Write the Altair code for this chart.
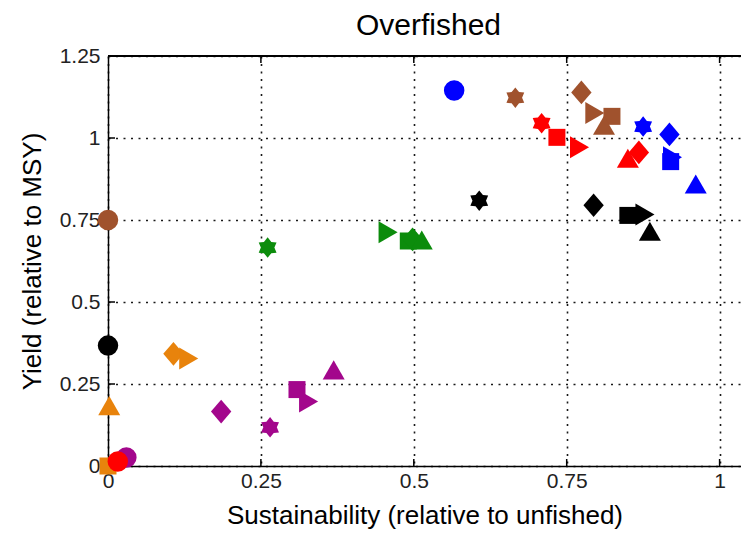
import altair as alt
import pandas as pd

# ---- data ----
series_names = ["Blue", "Brown", "Black", "Green", "Orange", "Purple", "Red"]
series_colors = ["#0000ff", "#a0522d", "#000000", "#0c8c0c", "#e8830c", "#a3078c", "#ff0000"]

shape_names = ["circle", "diamond", "square", "triangle-up", "triangle-right", "hexagram"]

blue_shape = ["circle", "hexagram", "diamond", "triangle-right", "square", "triangle-up"]
blue_x = [0.566, 0.875, 0.918, 0.923, 0.920, 0.961]
blue_y = [1.145, 1.035, 1.011, 0.941, 0.928, 0.860]

brown_shape = ["circle", "hexagram", "diamond", "triangle-right", "square", "triangle-up"]
brown_x = [0.000, 0.666, 0.774, 0.796, 0.824, 0.811]
brown_y = [0.750, 1.123, 1.139, 1.076, 1.066, 1.039]

black_shape = ["circle", "hexagram", "diamond", "square", "triangle-right", "triangle-up"]
black_x = [0.000, 0.607, 0.794, 0.850, 0.878, 0.886]
black_y = [0.367, 0.809, 0.795, 0.764, 0.767, 0.716]

green_shape = ["hexagram", "triangle-right", "square", "diamond", "triangle-up"]
green_x = [0.261, 0.458, 0.491, 0.498, 0.513]
green_y = [0.666, 0.713, 0.686, 0.691, 0.689]

orange_shape = ["square", "triangle-up", "diamond", "triangle-right"]
orange_x = [0.000, 0.002, 0.107, 0.132]
orange_y = [0.000, 0.184, 0.342, 0.328]

purple_shape = ["circle", "diamond", "hexagram", "square", "triangle-right", "triangle-up"]
purple_x = [0.030, 0.185, 0.265, 0.309, 0.328, 0.369]
purple_y = [0.026, 0.166, 0.118, 0.233, 0.197, 0.293]

red_shape = ["circle", "hexagram", "square", "triangle-right", "triangle-up", "diamond"]
red_x = [0.016, 0.709, 0.734, 0.771, 0.850, 0.868]
red_y = [0.014, 1.045, 1.002, 0.972, 0.938, 0.956]

x_ticks = [0, 0.25, 0.5, 0.75, 1]
y_ticks = [0, 0.25, 0.5, 0.75, 1, 1.25]

# ---- build table ----
groups = [
    ("Blue", blue_shape, blue_x, blue_y),
    ("Brown", brown_shape, brown_x, brown_y),
    ("Black", black_shape, black_x, black_y),
    ("Green", green_shape, green_x, green_y),
    ("Orange", orange_shape, orange_x, orange_y),
    ("Purple", purple_shape, purple_x, purple_y),
    ("Red", red_shape, red_x, red_y),
]
rows = []
order = 0
for name, shp, xs, ys in groups:
    for s, xv, yv in zip(shp, xs, ys):
        rows.append({"series": name, "shape": s, "sust": xv, "yield": yv, "order": order})
        order += 1
df = pd.DataFrame(rows)

W, H = 633, 410
FONT = "Liberation Sans"

hexagram_path = ("M0,-1L0.36,-0.55L0.87,-0.5L0.66,0L0.87,0.5L0.36,0.55L0,1"
                 "L-0.36,0.55L-0.87,0.5L-0.66,0L-0.87,-0.5L-0.36,-0.55Z")
diamond_path = "M0,-1L0.86,0L0,1L-0.86,0Z"
shape_range = ["circle", diamond_path, "square", "triangle-up", "triangle-right", hexagram_path]
size_range = [420, 560, 289, 484, 484, 420]

xscale = alt.Scale(domain=[0, 1.035], nice=False, zero=False)
yscale = alt.Scale(domain=[0, 1.25], nice=False, zero=False)

xaxis = alt.Axis(values=x_ticks, labelExpr="datum.value", title="Sustainability (relative to unfished)",
                 grid=True, ticks=False, labelPadding=4, titlePadding=11, labelFlush=False)
yaxis = alt.Axis(values=y_ticks, labelExpr="datum.value", title="Yield (relative to MSY)",
                 grid=True, ticks=False, labelPadding=8, titlePadding=14, labelFlush=False)

points = alt.Chart(df).mark_point(filled=True, opacity=1, strokeWidth=0).encode(
    x=alt.X("sust:Q", scale=xscale, axis=xaxis),
    y=alt.Y("yield:Q", scale=yscale, axis=yaxis),
    color=alt.Color("series:N", scale=alt.Scale(domain=series_names, range=series_colors), legend=None),
    shape=alt.Shape("shape:N", scale=alt.Scale(domain=shape_names, range=shape_range), legend=None),
    size=alt.Size("shape:N", scale=alt.Scale(type="ordinal", domain=shape_names, range=size_range), legend=None),
    order=alt.Order("order:Q"),
)

xt = pd.DataFrame({"v": x_ticks[1:]})
yt = pd.DataFrame({"v": y_ticks[1:-1]})

bottom_ticks = alt.Chart(xt).mark_rule(color="black", strokeWidth=1.5).encode(
    x=alt.X("v:Q", scale=xscale), y=alt.value(H), y2=alt.value(H - 7))
top_ticks = alt.Chart(xt).mark_rule(color="black", strokeWidth=1.5).encode(
    x=alt.X("v:Q", scale=xscale), y=alt.value(0), y2=alt.value(7))
left_ticks = alt.Chart(yt).mark_rule(color="black", strokeWidth=1.5).encode(
    y=alt.Y("v:Q", scale=yscale), x=alt.value(0), x2=alt.value(7))
top_line = alt.Chart(xt).mark_rule(color="black", strokeWidth=1.5).encode(
    x=alt.value(0), x2=alt.value(W), y=alt.value(0))

chart = alt.layer(top_line, bottom_ticks, top_ticks, left_ticks, points).properties(
    width=W, height=H,
    title=alt.TitleParams("Overfished", fontSize=30, font=FONT, fontWeight="normal",
                          color="black", offset=4, dx=4),
    autosize=alt.AutoSizeParams(type="none"),
    padding={"left": 100, "top": 48, "right": 0, "bottom": 72},
).configure_view(stroke=None).configure_axis(
    labelFont=FONT, labelFontSize=21, labelColor="#222222",
    titleFont=FONT, titleFontSize=26, titleFontWeight="normal", titleColor="black",
    domainColor="black", domainWidth=1.5,
    gridColor="black", gridWidth=1.6, gridDash=[2, 5.5], gridOpacity=0.9,
)

chart.save("out.html", embed_options={"renderer": "svg", "actions": False})
